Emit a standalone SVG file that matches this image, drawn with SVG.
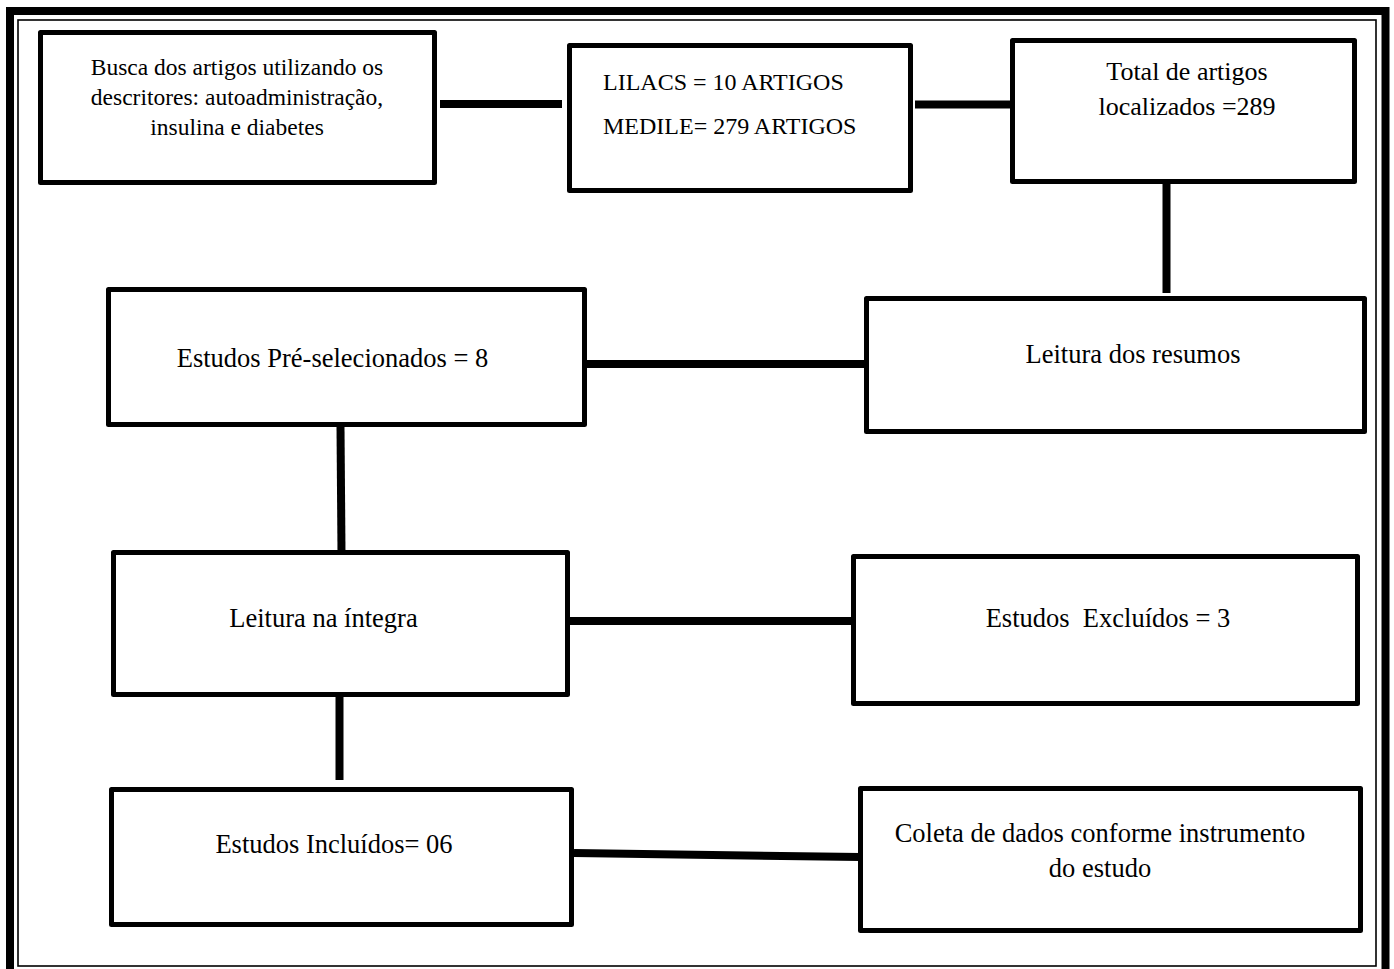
<svg xmlns="http://www.w3.org/2000/svg" width="1394" height="969" viewBox="0 0 1394 969">
<style>
.box{fill:#fff;stroke:#000;stroke-width:5;stroke-linejoin:round}
.con{stroke:#000;stroke-width:8;fill:none}
text{font-family:"Liberation Serif","Times New Roman",serif;fill:#000;white-space:pre}
.t{font-size:26.5px;text-anchor:middle}
</style>
<rect width="1394" height="969" fill="#fff"/>
<g id="frame">
<rect x="10" y="11" width="1375.5" height="966" fill="none" stroke="#000" stroke-width="8"/>
<rect x="18" y="20" width="1358" height="946" fill="none" stroke="#000" stroke-width="1.6"/>
</g>
<g id="connectors">
<line class="con" x1="440" y1="104" x2="562" y2="104"/>
<line class="con" x1="915" y1="104.5" x2="1012" y2="104.5"/>
<line class="con" x1="1166.5" y1="184" x2="1166.5" y2="293"/>
<line class="con" x1="587" y1="364" x2="866" y2="364"/>
<line class="con" x1="340.5" y1="427" x2="341.5" y2="552"/>
<line class="con" x1="570" y1="621" x2="853" y2="621"/>
<line class="con" x1="339.5" y1="697" x2="339.5" y2="780"/>
<line class="con" x1="574" y1="853" x2="860" y2="857"/>
</g>
<g id="n1">
<rect class="box" x="40.5" y="32.5" width="394" height="150"/>
<text font-size="23.5" text-anchor="middle"><tspan x="237" y="75">Busca dos artigos utilizando os</tspan><tspan x="237" y="105">descritores: autoadministração,</tspan><tspan x="237" y="135">insulina e diabetes</tspan></text>
</g>
<g id="n2">
<rect class="box" x="569.5" y="45.5" width="341" height="145"/>
<text font-size="24"><tspan x="603" y="90">LILACS = 10 ARTIGOS</tspan><tspan x="603" y="134">MEDILE= 279 ARTIGOS</tspan></text>
</g>
<g id="n3">
<rect class="box" x="1012.5" y="40.5" width="342" height="141"/>
<text font-size="26" text-anchor="middle"><tspan x="1187" y="80">Total de artigos</tspan><tspan x="1187" y="115">localizados =289</tspan></text>
</g>
<g id="n4">
<rect class="box" x="108.5" y="289.5" width="476" height="135"/>
<text class="t" x="332.5" y="367">Estudos Pré-selecionados = 8</text>
</g>
<g id="n5">
<rect class="box" x="866.5" y="298.5" width="498" height="133"/>
<text class="t" x="1133" y="363">Leitura dos resumos</text>
</g>
<g id="n6">
<rect class="box" x="113.5" y="552.5" width="454" height="142"/>
<text class="t" x="323.5" y="627">Leitura na íntegra</text>
</g>
<g id="n7">
<rect class="box" x="853.5" y="556.5" width="504" height="147"/>
<text class="t" x="1108" y="627">Estudos  Excluídos = 3</text>
</g>
<g id="n8">
<rect class="box" x="111.5" y="789.5" width="460" height="135"/>
<text class="t" x="334" y="853">Estudos Incluídos= 06</text>
</g>
<g id="n9">
<rect class="box" x="860.5" y="788.5" width="500" height="142"/>
<text class="t"><tspan x="1100" y="842">Coleta de dados conforme instrumento</tspan><tspan x="1100" y="877">do estudo</tspan></text>
</g>
</svg>
